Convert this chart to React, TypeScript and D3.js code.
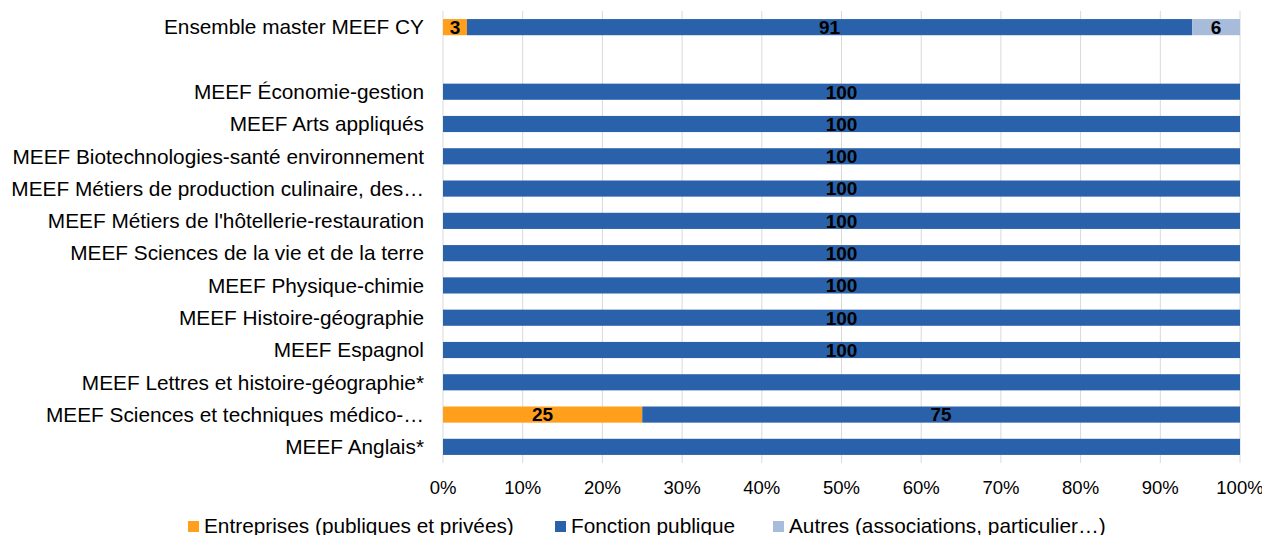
import React from 'react';
import * as d3 from 'd3';

// categories, top to bottom ("" = empty spacer row)
const categories = [
  'Ensemble master MEEF CY',
  '',
  'MEEF Économie-gestion',
  'MEEF Arts appliqués',
  'MEEF Biotechnologies-santé environnement',
  'MEEF Métiers de production culinaire, des…',
  "MEEF Métiers de l'hôtellerie-restauration",
  'MEEF Sciences de la vie et de la terre',
  'MEEF Physique-chimie',
  'MEEF Histoire-géographie',
  'MEEF Espagnol',
  'MEEF Lettres et histoire-géographie*',
  'MEEF Sciences et techniques médico-…',
  'MEEF Anglais*',
];

const entreprises = [3, 0, 0, 0, 0, 0, 0, 0, 0, 0, 0, 0, 25, 0];
const fonctionPublique = [91, 0, 100, 100, 100, 100, 100, 100, 100, 100, 100, 100, 75, 100];
const autres = [6, 0, 0, 0, 0, 0, 0, 0, 0, 0, 0, 0, 0, 0];
// rows whose labels are not shown (small headcount)
const hideLabels = [false, true, false, false, false, false, false, false, false, false, false, true, false, true];

const seriesNames = ['Entreprises (publiques et privées)', 'Fonction publique', 'Autres (associations, particulier…)'];
const colors = ['#FF9F1C', '#2962AA', '#A6BCDA'];
const tickValues = [0, 10, 20, 30, 40, 50, 60, 70, 80, 90, 100];

const W = 1262;
const H = 535;
const margin = { top: 11, right: 22, bottom: 72, left: 443 };
const font = '"Liberation Sans", Arial, sans-serif';

const App = () => {
  const x = d3.scaleLinear().domain([0, 100]).range([margin.left, W - margin.right]);
  const y = d3
    .scaleBand<number>()
    .domain(d3.range(categories.length))
    .range([margin.top, H - margin.bottom])
    .paddingInner(0.5)
    .paddingOuter(0.25);

  const rows = categories.map((c, i) => ({ c, i, vals: [entreprises[i], fonctionPublique[i], autres[i]] }));
  const stack = d3.stack<any>().keys(['0', '1', '2']).value((d, k) => d.vals[+k]);
  const stacked = stack(rows);

  const bw = y.bandwidth();
  const axisBottom = H - margin.bottom;

  return (
    <svg width={W} height={H} style={{ position: 'absolute', left: 0, top: 0 }} fontFamily={font}>
      <rect width={W} height={H} fill="#fff" />
      {tickValues.map((t) => (
        <line key={t} x1={x(t)} x2={x(t)} y1={margin.top} y2={axisBottom} stroke="#d9d9d9" strokeWidth={1} />
      ))}
      {stacked.map((s, si) => (
        <g key={si} fill={colors[si]}>
          {s.map((d, i) =>
            d[1] - d[0] > 0 ? (
              <rect key={i} x={x(d[0])} y={y(i)} width={x(d[1]) - x(d[0])} height={bw} />
            ) : null
          )}
        </g>
      ))}
      {stacked.map((s, si) => (
        <g key={'l' + si} fontSize={19} fontWeight="bold" fill="#000" textAnchor="middle">
          {s.map((d, i) =>
            d[1] - d[0] > 0 && !hideLabels[i] ? (
              <text key={i} x={(x(d[0]) + x(d[1])) / 2} y={(y(i) as number) + bw / 2} dy="0.36em">
                {d[1] - d[0]}
              </text>
            ) : null
          )}
        </g>
      ))}
      <g fontSize={20.8} fill="#000" textAnchor="end">
        {categories.map((c, i) => (
          <text key={i} x={margin.left - 19} y={(y(i) as number) + bw / 2} dy="0.35em">
            {c}
          </text>
        ))}
      </g>
      <g fontSize={18.5} fill="#000" textAnchor="middle">
        {tickValues.map((t) => (
          <text key={t} x={x(t)} y={488} dy="0.35em">
            {t}%
          </text>
        ))}
      </g>
      <g fontSize={20.8} fill="#000">
        {seriesNames.map((n, i) => {
          const lx = [188, 555, 773][i];
          return (
            <g key={n}>
              <rect x={lx} y={521} width={11} height={11} fill={colors[i]} />
              <text x={lx + 16} y={526} dy="0.35em">
                {n}
              </text>
            </g>
          );
        })}
      </g>
    </svg>
  );
};

export default App;
